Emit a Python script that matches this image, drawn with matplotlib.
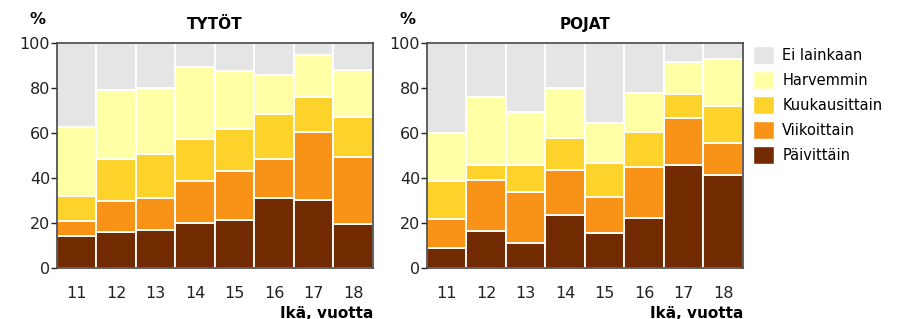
import matplotlib
matplotlib.use('Agg')
from matplotlib import pyplot as plt
from matplotlib.patches import Patch

ages = ['11', '12', '13', '14', '15', '16', '17', '18']
labels = ['Päivittäin', 'Viikoittain', 'Kuukausittain', 'Harvemmin', 'Ei lainkaan']
colors = ['#722b00', '#f99317', '#fcd22b', '#ffffa6', '#e5e5e5']

# tytöt, % per age group
tytot_paiv = [14.3, 16.0, 16.8, 20.2, 21.3, 31.3, 30.3, 19.8]
tytot_viik = [6.8, 14.0, 14.5, 18.5, 22.0, 17.1, 30.1, 29.7]
tytot_kuuk = [11.1, 18.4, 19.5, 18.5, 18.6, 20.0, 15.7, 17.6]
tytot_harv = [30.3, 30.8, 29.3, 32.2, 25.6, 17.1, 18.3, 20.8]
tytot_ei = [37.5, 20.8, 19.9, 10.6, 12.5, 14.5, 5.6, 12.1]

# pojat
pojat_paiv = [9.0, 16.5, 11.4, 23.5, 15.5, 22.4, 45.8, 41.2]
pojat_viik = [13.0, 22.8, 22.3, 19.9, 16.2, 22.4, 20.8, 14.5]
pojat_kuuk = [16.7, 6.6, 11.9, 14.2, 15.1, 15.5, 10.8, 16.4]
pojat_harv = [21.4, 29.9, 23.7, 22.5, 17.7, 17.3, 13.9, 20.5]
pojat_ei = [39.9, 24.2, 30.7, 19.9, 35.5, 22.4, 8.7, 7.4]

tytot = [tytot_paiv, tytot_viik, tytot_kuuk, tytot_harv, tytot_ei]
pojat = [pojat_paiv, pojat_viik, pojat_kuuk, pojat_harv, pojat_ei]

plt.rcParams['font.family'] = 'DejaVu Sans'
fig = plt.figure(figsize=(9.04, 3.19), dpi=100)

W, H = 904, 319
bottom = (H - 268.3) / H
height = 225.6 / H
ax1 = fig.add_axes([57 / W, bottom, 316 / W, height])
ax2 = fig.add_axes([427 / W, bottom, 316 / W, height])


def draw(ax, series, title):
    x = range(len(ages))
    base = [0] * len(ages)
    for vals, col, lab in zip(series, colors, labels):
        ax.bar(x, vals, bottom=base, width=1.0, color=col, edgecolor='white',
               linewidth=1.3, label=lab)
        base = [b + v for b, v in zip(base, vals)]
    ax.set_xlim(-0.5, len(ages) - 0.5)
    ax.set_ylim(0, 100)
    ax.set_yticks([0, 20, 40, 60, 80, 100])
    ax.set_xticks(list(x))
    ax.set_xticklabels(ages)
    ax.tick_params(axis='x', length=0, pad=13, labelsize=11.5, colors='#222222')
    ax.tick_params(axis='y', length=4, width=1, pad=1, labelsize=11.5,
                   colors='#222222', direction='out')
    for s in ax.spines.values():
        s.set_color('#444444')
        s.set_linewidth(1.2)
    ax.set_title(title, fontsize=11, fontweight='bold', pad=10)
    ax.text(-0.063, 1.105, '%', transform=ax.transAxes, ha='center', va='center',
            fontsize=11.5, fontweight='bold')
    ax.text(1.0, -0.165, 'Ikä, vuotta', transform=ax.transAxes, ha='right',
            va='top', fontsize=11, fontweight='bold')


draw(ax1, tytot, 'TYTÖT')
draw(ax2, pojat, 'POJAT')

handles = [Patch(facecolor=c, edgecolor='white', label=l) for c, l in zip(colors, labels)]
fig.legend(handles[::-1], labels[::-1], loc='upper left',
           bbox_to_anchor=(740 / W, 1 - 33 / H), frameon=False, fontsize=10.5,
           handlelength=1.4, handleheight=1.5, handletextpad=0.6, labelspacing=0.5)

fig.savefig('out.png', dpi=100)
